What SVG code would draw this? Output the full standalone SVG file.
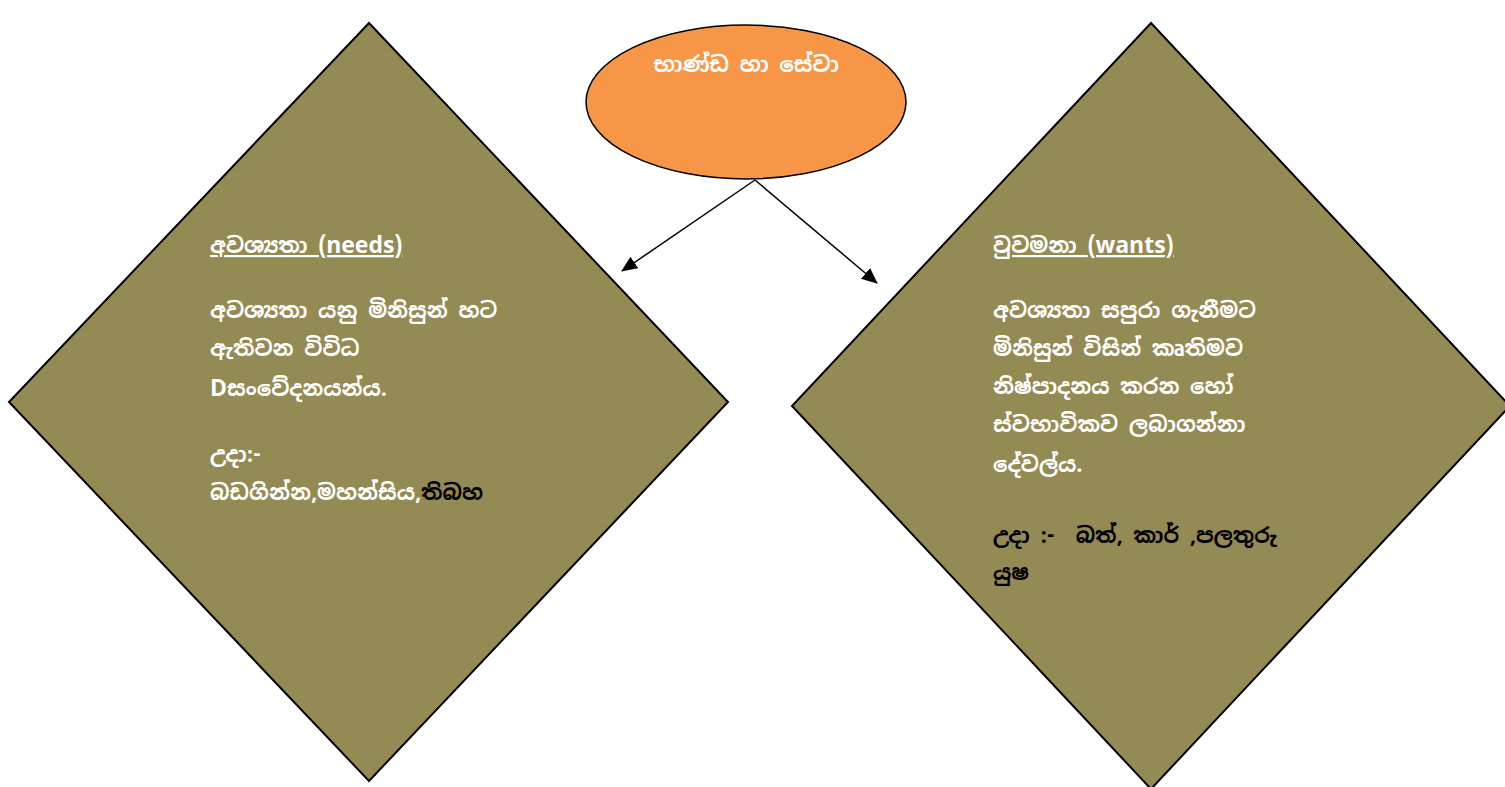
<svg xmlns="http://www.w3.org/2000/svg" width="1505" height="787" viewBox="0 0 1505 787">
<style>
.shape{fill:#948A54;stroke:#000;stroke-width:2}
.t{font-family:"Noto Sans Sinhala","Noto Sans","DejaVu Sans",sans-serif;font-weight:bold;font-size:21.5px;fill:#fff}
.k{fill:#000}
.u{text-decoration:underline}
.l{font-size:23px}
.conn{stroke:#000;stroke-width:1.5;fill:none}
</style>
<defs>
<marker id="ah" markerWidth="16" markerHeight="14" refX="15" refY="7" orient="auto" markerUnits="userSpaceOnUse" viewBox="0 0 16 14">
<path d="M0,0 L16,7 L0,14 z" fill="#000"/>
</marker>
</defs>
<rect width="1505" height="787" fill="#fff"/>
<g id="needs">
<polygon class="shape" points="369,23 728,402 369,781 9,402"/>
<text class="t u" x="210" y="253">අවශ්‍යතා <tspan class="l">(needs)</tspan></text>
<text class="t" x="210" y="318">අවශ්‍යතා යනු මිනිසුන් හට</text>
<text class="t" x="210" y="356">ඇතිවන විවිධ</text>
<text class="t" x="210" y="396"><tspan class="l">D</tspan>සංවේදනයන්ය.</text>
<text class="t" x="210" y="462">උදා:-</text>
<text class="t" x="210" y="500">බඩගින්න,මහන්සිය,<tspan class="k">තිබහ</tspan></text>
</g>
<g id="wants">
<polygon class="shape" points="1151,23 1510,406 1151,789 792,406"/>
<text class="t u" x="993" y="253">වුවමනා <tspan class="l">(wants)</tspan></text>
<text class="t" x="993" y="318">අවශ්‍යතා සපුරා ගැනීමට</text>
<text class="t" x="993" y="356">මිනිසුන් විසින් කෘතිමව</text>
<text class="t" x="993" y="394">නිෂ්පාදනය කරන හෝ</text>
<text class="t" x="993" y="432">ස්වභාවිකව ලබාගන්නා</text>
<text class="t" x="993" y="472">දේවල්ය.</text>
<text class="t k" x="993" y="543" xml:space="preserve">උදා :-  බත්, කාර් ,පලතුරු</text>
<text class="t k" x="993" y="580">යුෂ</text>
</g>
<g id="goods">
<ellipse cx="746" cy="102" rx="160" ry="77" fill="#F79646" stroke="#000" stroke-width="1.5"/>
<text class="t" x="746" y="72" text-anchor="middle">භාණ්ඩ හා සේවා</text>
</g>
<g id="connectors">
<line class="conn" x1="755" y1="180" x2="622" y2="271" marker-end="url(#ah)"/>
<line class="conn" x1="755" y1="180" x2="877" y2="283" marker-end="url(#ah)"/>
</g>
</svg>
